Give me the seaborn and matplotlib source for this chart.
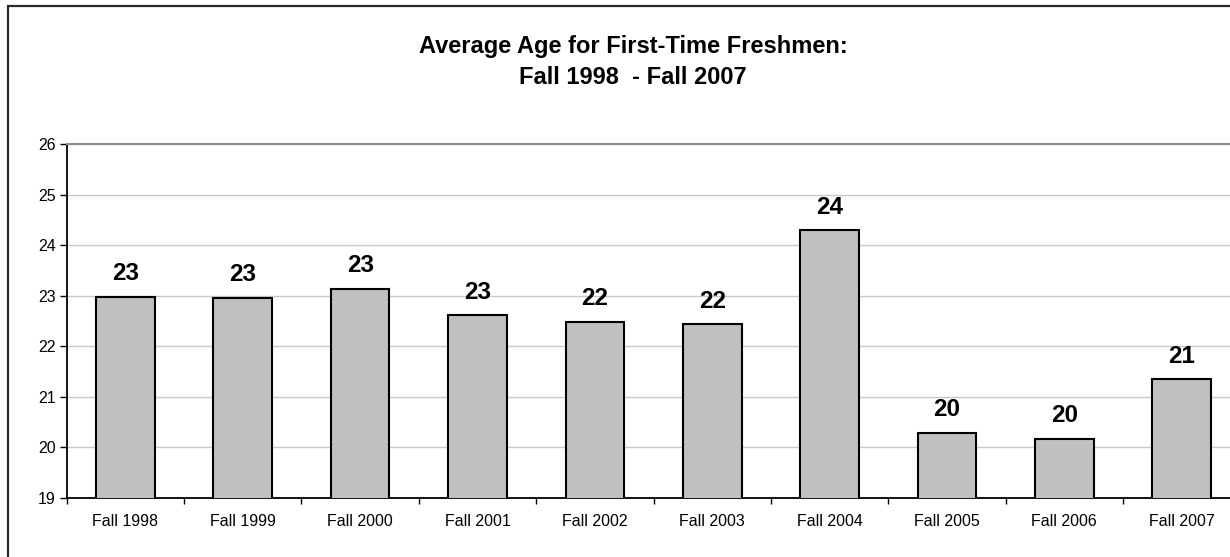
import matplotlib
matplotlib.use("Agg")
import matplotlib.pyplot as plt
import matplotlib.patches as mpatches
import seaborn as sns
import pandas as pd

# ── data ─────────────────────────────────────────────────────────────────────
terms = ["Fall 1998", "Fall 1999", "Fall 2000", "Fall 2001", "Fall 2002",
         "Fall 2003", "Fall 2004", "Fall 2005", "Fall 2006", "Fall 2007"]
avg_age = [22.98, 22.96, 23.13, 22.61, 22.48, 22.43, 24.29, 20.28, 20.16, 21.34]
y_ticks = [19, 20, 21, 22, 23, 24, 25, 26]

title = "Average Age for First-Time Freshmen:\nFall 1998  - Fall 2007"

sns.set_theme(style="white")
plt.rcParams["font.family"] = ["Liberation Sans", "DejaVu Sans"]

W, H = 1230, 557
fig = plt.figure(figsize=(W / 100, H / 100), dpi=100)
fig.patch.set_facecolor("white")

# plot area runs a little past the right edge, as in the cropped original
left, right, top, bottom = 66.7, 1240.4, 144.0, 497.7
ax = fig.add_axes([left / W, 1 - bottom / H, (right - left) / W, (bottom - top) / H])

df = pd.DataFrame({"term": terms, "age": avg_age})
sns.barplot(data=df, x="term", y="age", color="#c0c0c0", saturation=1,
            edgecolor="black", linewidth=1.5, width=0.5, ax=ax, zorder=3)

ax.set_ylim(y_ticks[0], y_ticks[-1])
ax.set_xlim(-0.5, len(terms) - 0.5)
ax.set_yticks(y_ticks)
ax.set_xlabel("")
ax.set_ylabel("")
ax.grid(axis="y", color="#c8c8c8", linewidth=1.0, zorder=0)
ax.set_axisbelow(True)

# value labels above bars
for i, v in enumerate(avg_age):
    ax.annotate(f"{v:.0f}", (i, v), xytext=(0, 12), textcoords="offset points",
                ha="center", va="baseline", fontsize=17.5, fontweight="bold",
                color="black")

# spines
for side in ["left", "bottom"]:
    ax.spines[side].set_color("black")
    ax.spines[side].set_linewidth(1.3)
ax.spines["top"].set_color("#8c8c8c")
ax.spines["top"].set_linewidth(1.5)
ax.spines["right"].set_visible(False)

# ticks: y outward, x marks at category boundaries
ax.tick_params(axis="y", which="major", direction="out", length=5, width=1,
               color="black", left=True, pad=3, labelsize=11.5, labelcolor="black")
ax.tick_params(axis="x", which="major", length=0, pad=12, labelsize=11.5,
               labelcolor="black")
ax.set_xticks([k - 0.5 for k in range(len(terms) + 1)], minor=True)
ax.tick_params(axis="x", which="minor", direction="out", length=4, width=1,
               color="black", bottom=True)

# title
fig.text(633 / W, 1 - 62 / H, title, ha="center", va="center", fontsize=17,
         fontweight="bold", linespacing=1.4, color="black")

# outer chart frame (only left and top edges fall inside the crop)
frame = mpatches.Rectangle((8 / W, -0.2), 1.5, 1.2 - 6 / H, transform=fig.transFigure,
                           fill=False, edgecolor="#2a2a2a", linewidth=1.6)
fig.add_artist(frame)

fig.savefig("out.png", dpi=100)
